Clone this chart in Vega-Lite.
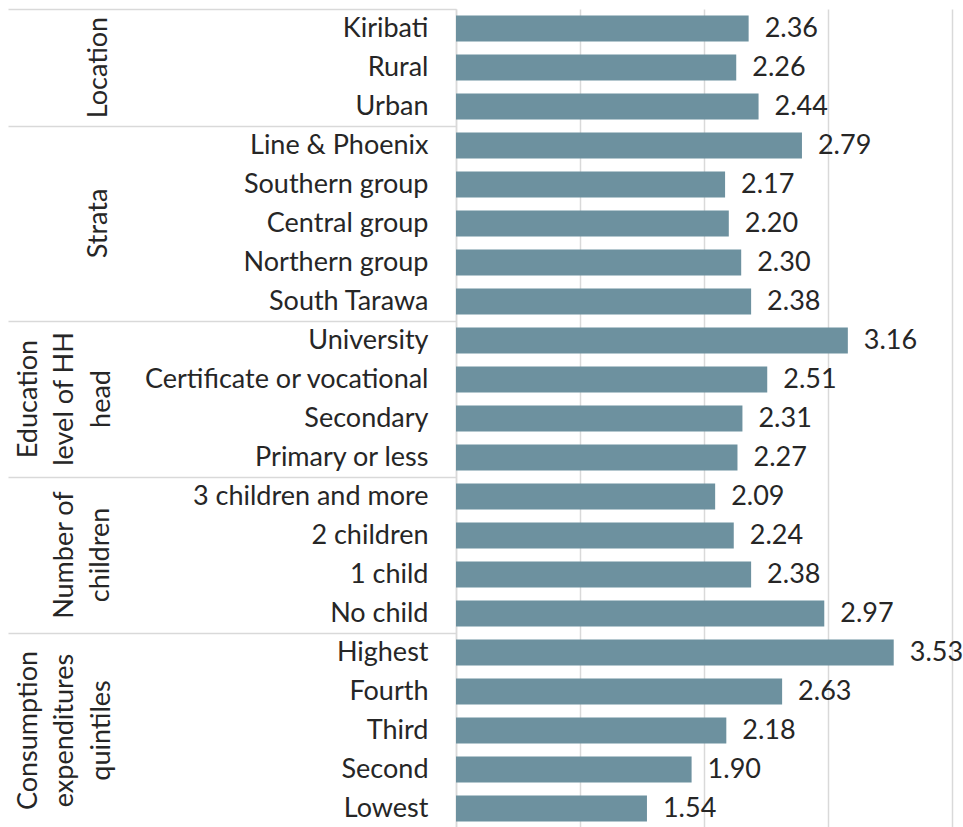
{
  "$schema": "https://vega.github.io/schema/vega-lite/v6.json",
  "background": "white",
  "padding": {"left": 7, "top": 8, "right": 0, "bottom": 0},
  "autosize": {"type": "pad"},
  "width": 496,
  "height": {"step": 39},
  "data": {
    "values": [
      {"group": "Location", "label": "Kiribati", "value": 2.36},
      {"group": "Location", "label": "Rural", "value": 2.26},
      {"group": "Location", "label": "Urban", "value": 2.44},
      {"group": "Strata", "label": "Line & Phoenix", "value": 2.79},
      {"group": "Strata", "label": "Southern group", "value": 2.17},
      {"group": "Strata", "label": "Central group", "value": 2.20},
      {"group": "Strata", "label": "Northern group", "value": 2.30},
      {"group": "Strata", "label": "South Tarawa", "value": 2.38},
      {"group": "Education level of HH head", "label": "University", "value": 3.16},
      {"group": "Education level of HH head", "label": "Certificate or vocational", "value": 2.51},
      {"group": "Education level of HH head", "label": "Secondary", "value": 2.31},
      {"group": "Education level of HH head", "label": "Primary or less", "value": 2.27},
      {"group": "Number of children", "label": "3 children and more", "value": 2.09},
      {"group": "Number of children", "label": "2 children", "value": 2.24},
      {"group": "Number of children", "label": "1 child", "value": 2.38},
      {"group": "Number of children", "label": "No child", "value": 2.97},
      {"group": "Consumption expenditures quintiles", "label": "Highest", "value": 3.53},
      {"group": "Consumption expenditures quintiles", "label": "Fourth", "value": 2.63},
      {"group": "Consumption expenditures quintiles", "label": "Third", "value": 2.18},
      {"group": "Consumption expenditures quintiles", "label": "Second", "value": 1.90},
      {"group": "Consumption expenditures quintiles", "label": "Lowest", "value": 1.54}
    ]
  },
  "encoding": {
    "x": {
      "field": "value",
      "type": "quantitative",
      "scale": {"domain": [0, 4], "nice": false},
      "axis": {"values": [0, 1, 2, 3, 4], "grid": true, "gridColor": "#d9d9d9", "gridWidth": 1.5, "labels": false, "ticks": false, "domain": false, "title": null}
    }
  },
  "layer": [
    {
      "mark": {"type": "bar", "color": "#6d919f"},
      "encoding": {
        "y": {
          "field": "label",
          "type": "nominal",
          "sort": null,
          "scale": {"paddingInner": 0.33, "paddingOuter": 0.165},
          "axis": {
            "orient": "left",
            "title": null,
            "grid": false,
            "domainColor": "#d9d9d9",
            "domainWidth": 1.5,
            "bandPosition": 0,
            "tickOffset": -6.4,
            "labelOffset": 6.4,
            "tickSize": 448,
            "tickColor": "#d9d9d9",
            "tickWidth": 1.5,
            "tickOpacity": {"condition": {"test": "indexof(['Kiribati','Line & Phoenix','University','3 children and more','Highest'], datum.value) >= 0", "value": 1}, "value": 0},
            "labelPadding": -420,
            "labelFont": "Lato",
            "labelFontSize": 27,
            "labelColor": "#262626",
            "labelLimit": 400
          }
        }
      }
    },
    {
      "mark": {"type": "text", "align": "left", "baseline": "middle", "dx": 16, "font": "Lato", "fontSize": 27, "color": "#262626"},
      "encoding": {
        "y": {
          "field": "label",
          "type": "nominal",
          "sort": null,
          "axis": {
            "orient": "left",
            "title": null,
            "grid": false,
            "domain": false,
            "ticks": false,
            "values": ["Rural", "Central group", "Secondary", "1 child", "Third"],
            "labelExpr": "datum.value === 'Rural' ? 'Location' : datum.value === 'Central group' ? 'Strata' : datum.value === 'Secondary' ? ['Education', 'level of HH', 'head'] : datum.value === '1 child' ? ['Number of', 'children'] : ['Consumption', 'expenditures', 'quintiles']",
            "labelAngle": -90,
            "labelAlign": "center",
            "labelBaseline": "bottom",
            "labelPadding": {"condition": [{"test": "datum.value === 'Secondary' || datum.value === 'Third'", "value": 414}, {"test": "datum.value === '1 child'", "value": 378}], "value": 344},
            "labelOffset": {"condition": {"test": "datum.value === 'Secondary' || datum.value === '1 child'", "value": -19.5}, "value": 0},
            "labelFont": "Lato",
            "labelFontSize": 27,
            "labelLineHeight": 36.5,
            "labelColor": "#262626",
            "labelLimit": 400
          }
        },
        "text": {"field": "value", "type": "quantitative", "format": ".2f"}
      }
    }
  ],
  "resolve": {"axis": {"y": "independent"}},
  "config": {"view": {"stroke": null}}
}
